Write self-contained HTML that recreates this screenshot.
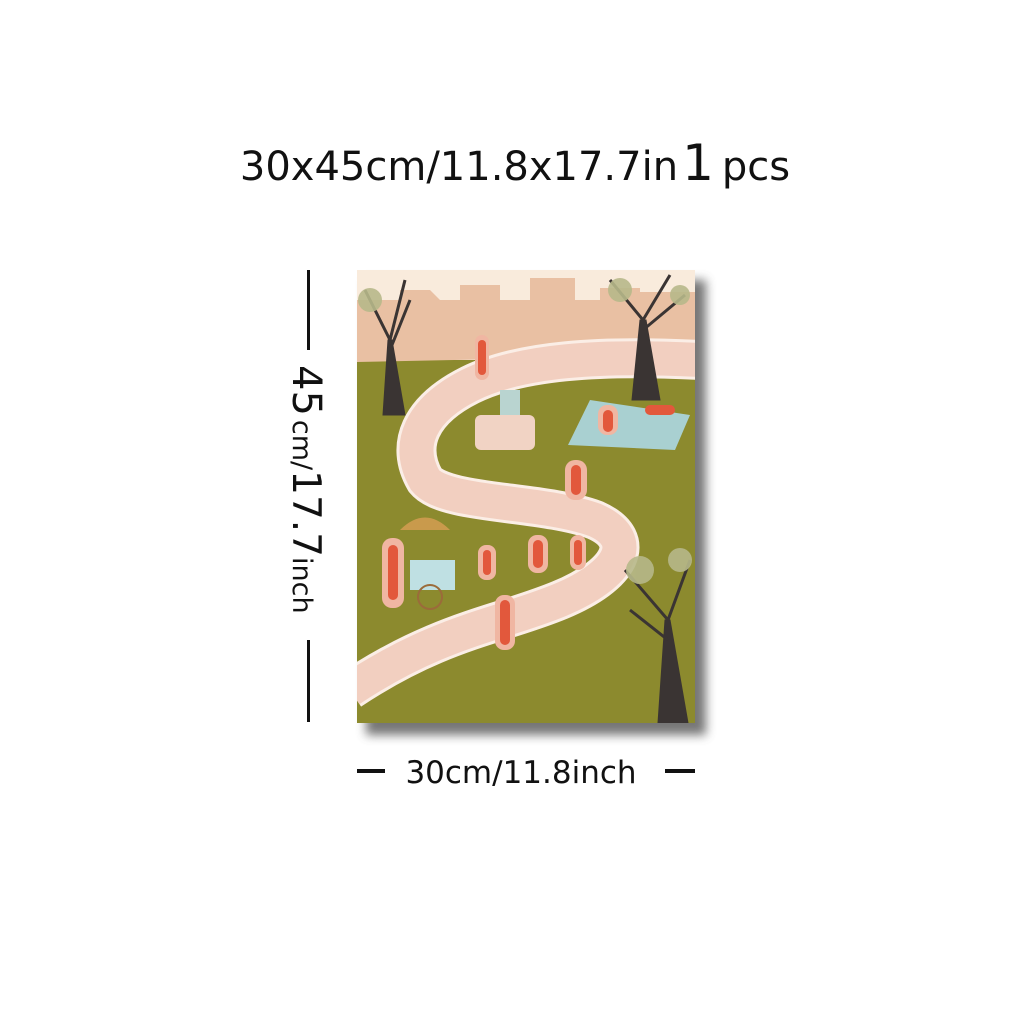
<!DOCTYPE html>
<html><head><meta charset="utf-8"><style>
html,body{margin:0;padding:0;background:#fff;}
body{width:1024px;height:1024px;overflow:hidden;position:relative;font-family:"Liberation Sans",sans-serif;}
</style></head><body>
<svg width="1024" height="1024" viewBox="0 0 1024 1024">
<defs>
<filter id="sh" x="-10%" y="-10%" width="130%" height="130%"><feGaussianBlur stdDeviation="5"/></filter>
<clipPath id="cv"><rect x="357" y="270" width="338" height="453"/></clipPath>
</defs>
<text x="515" y="180" text-anchor="middle" font-size="40" fill="#111" font-family="DejaVu Sans, sans-serif">30x45cm/11.8x17.7in<tspan font-size="50" dx="4">1</tspan><tspan dx="8">pcs</tspan></text>

<g>
<rect x="366" y="280" width="340" height="455" fill="#555" filter="url(#sh)" opacity="0.8"/>
</g>
<g clip-path="url(#cv)">
<rect x="357" y="270" width="338" height="453" fill="#8c8a2e"/>
<rect x="357" y="270" width="338" height="90" fill="#f9ebdc"/>
<path d="M357 300 L400 300 L400 290 L430 290 L440 300 L460 300 L460 285 L500 285 L500 300 L530 300 L530 278 L575 278 L575 300 L600 300 L600 288 L640 288 L640 292 L695 292 L695 355 L357 362 Z" fill="#e9c0a3"/>
<path d="M700 360 C600 355 520 360 470 385 C420 410 405 445 425 480 C445 505 540 500 595 520 C640 540 620 575 560 600 C500 625 440 630 350 690" fill="none" stroke="#fbeee6" stroke-width="40"/>
<path d="M700 360 C600 355 520 360 470 385 C420 410 405 445 425 480 C445 505 540 500 595 520 C640 540 620 575 560 600 C500 625 440 630 350 690" fill="none" stroke="#f2cfc0" stroke-width="34"/>
<rect x="475" y="415" width="60" height="35" rx="6" fill="#f1d3c4"/>
<rect x="500" y="390" width="20" height="25" fill="#b9d4d0"/>
<path d="M568 445 L590 400 L690 415 L675 450 Z" fill="#a9d0d1"/>
<g fill="#3a3433" stroke="#3a3433">
<path d="M383 415 L388 340 L392 340 L405 415 Z"/>
<path d="M390 340 L365 290 M390 340 L405 280 M390 350 L410 300" stroke-width="3" fill="none"/>
<path d="M632 400 L640 320 L646 320 L660 400 Z"/>
<path d="M643 320 L610 280 M643 320 L670 275 M643 330 L685 295" stroke-width="3" fill="none"/>
<path d="M658 723 L665 620 L670 620 L688 723 Z"/>
<path d="M668 620 L625 570 M668 620 L690 560 M668 640 L630 610" stroke-width="3" fill="none"/>
</g>
<g fill="#b7b889" opacity="0.9">
<circle cx="370" cy="300" r="12"/><circle cx="620" cy="290" r="12"/><circle cx="680" cy="295" r="10"/><circle cx="640" cy="570" r="14"/><circle cx="680" cy="560" r="12"/>
</g>
<path d="M400 530 Q425 505 450 530 Z" fill="#c99a4c"/>
<rect x="410" y="560" width="45" height="30" fill="#bfe0e3"/>
<circle cx="430" cy="597" r="12" fill="none" stroke="#9b6b3a" stroke-width="2"/>
<g fill="#f0b6a2">
<rect x="382" y="538" width="22" height="70" rx="10"/>
<rect x="478" y="545" width="18" height="35" rx="8"/>
<rect x="528" y="535" width="20" height="38" rx="9"/>
<rect x="570" y="535" width="16" height="35" rx="8"/>
<rect x="565" y="460" width="22" height="40" rx="10"/>
<rect x="495" y="595" width="20" height="55" rx="9"/>
<rect x="475" y="335" width="14" height="45" rx="7"/>
<rect x="598" y="405" width="20" height="30" rx="9"/>
</g>
<g fill="#e2583c">
<rect x="388" y="545" width="10" height="55" rx="5"/>
<rect x="483" y="550" width="8" height="25" rx="4"/>
<rect x="533" y="540" width="10" height="28" rx="5"/>
<rect x="574" y="540" width="8" height="25" rx="4"/>
<rect x="571" y="465" width="10" height="30" rx="5"/>
<rect x="500" y="600" width="10" height="45" rx="5"/>
<rect x="478" y="340" width="8" height="35" rx="4"/>
<rect x="603" y="410" width="10" height="22" rx="5"/>
<rect x="645" y="405" width="30" height="10" rx="5"/>
</g>
</g>

<g>
<rect x="307" y="270" width="3" height="80" fill="#111"/>
<rect x="307" y="640" width="3" height="82" fill="#111"/>
<text transform="translate(293,365) rotate(90)" font-size="40" fill="#111" font-family="DejaVu Sans, sans-serif">45<tspan font-size="27" dx="4">cm/</tspan><tspan font-size="39">17.7</tspan><tspan font-size="27">inch</tspan></text>
</g>
<g>
<rect x="357" y="769" width="28" height="4" fill="#111"/>
<rect x="665" y="769" width="30" height="4" fill="#111"/>
<text x="521" y="783" text-anchor="middle" font-size="31" fill="#111" font-family="DejaVu Sans, sans-serif">30cm/11.8inch</text>
</g>
</svg>
</body></html>
